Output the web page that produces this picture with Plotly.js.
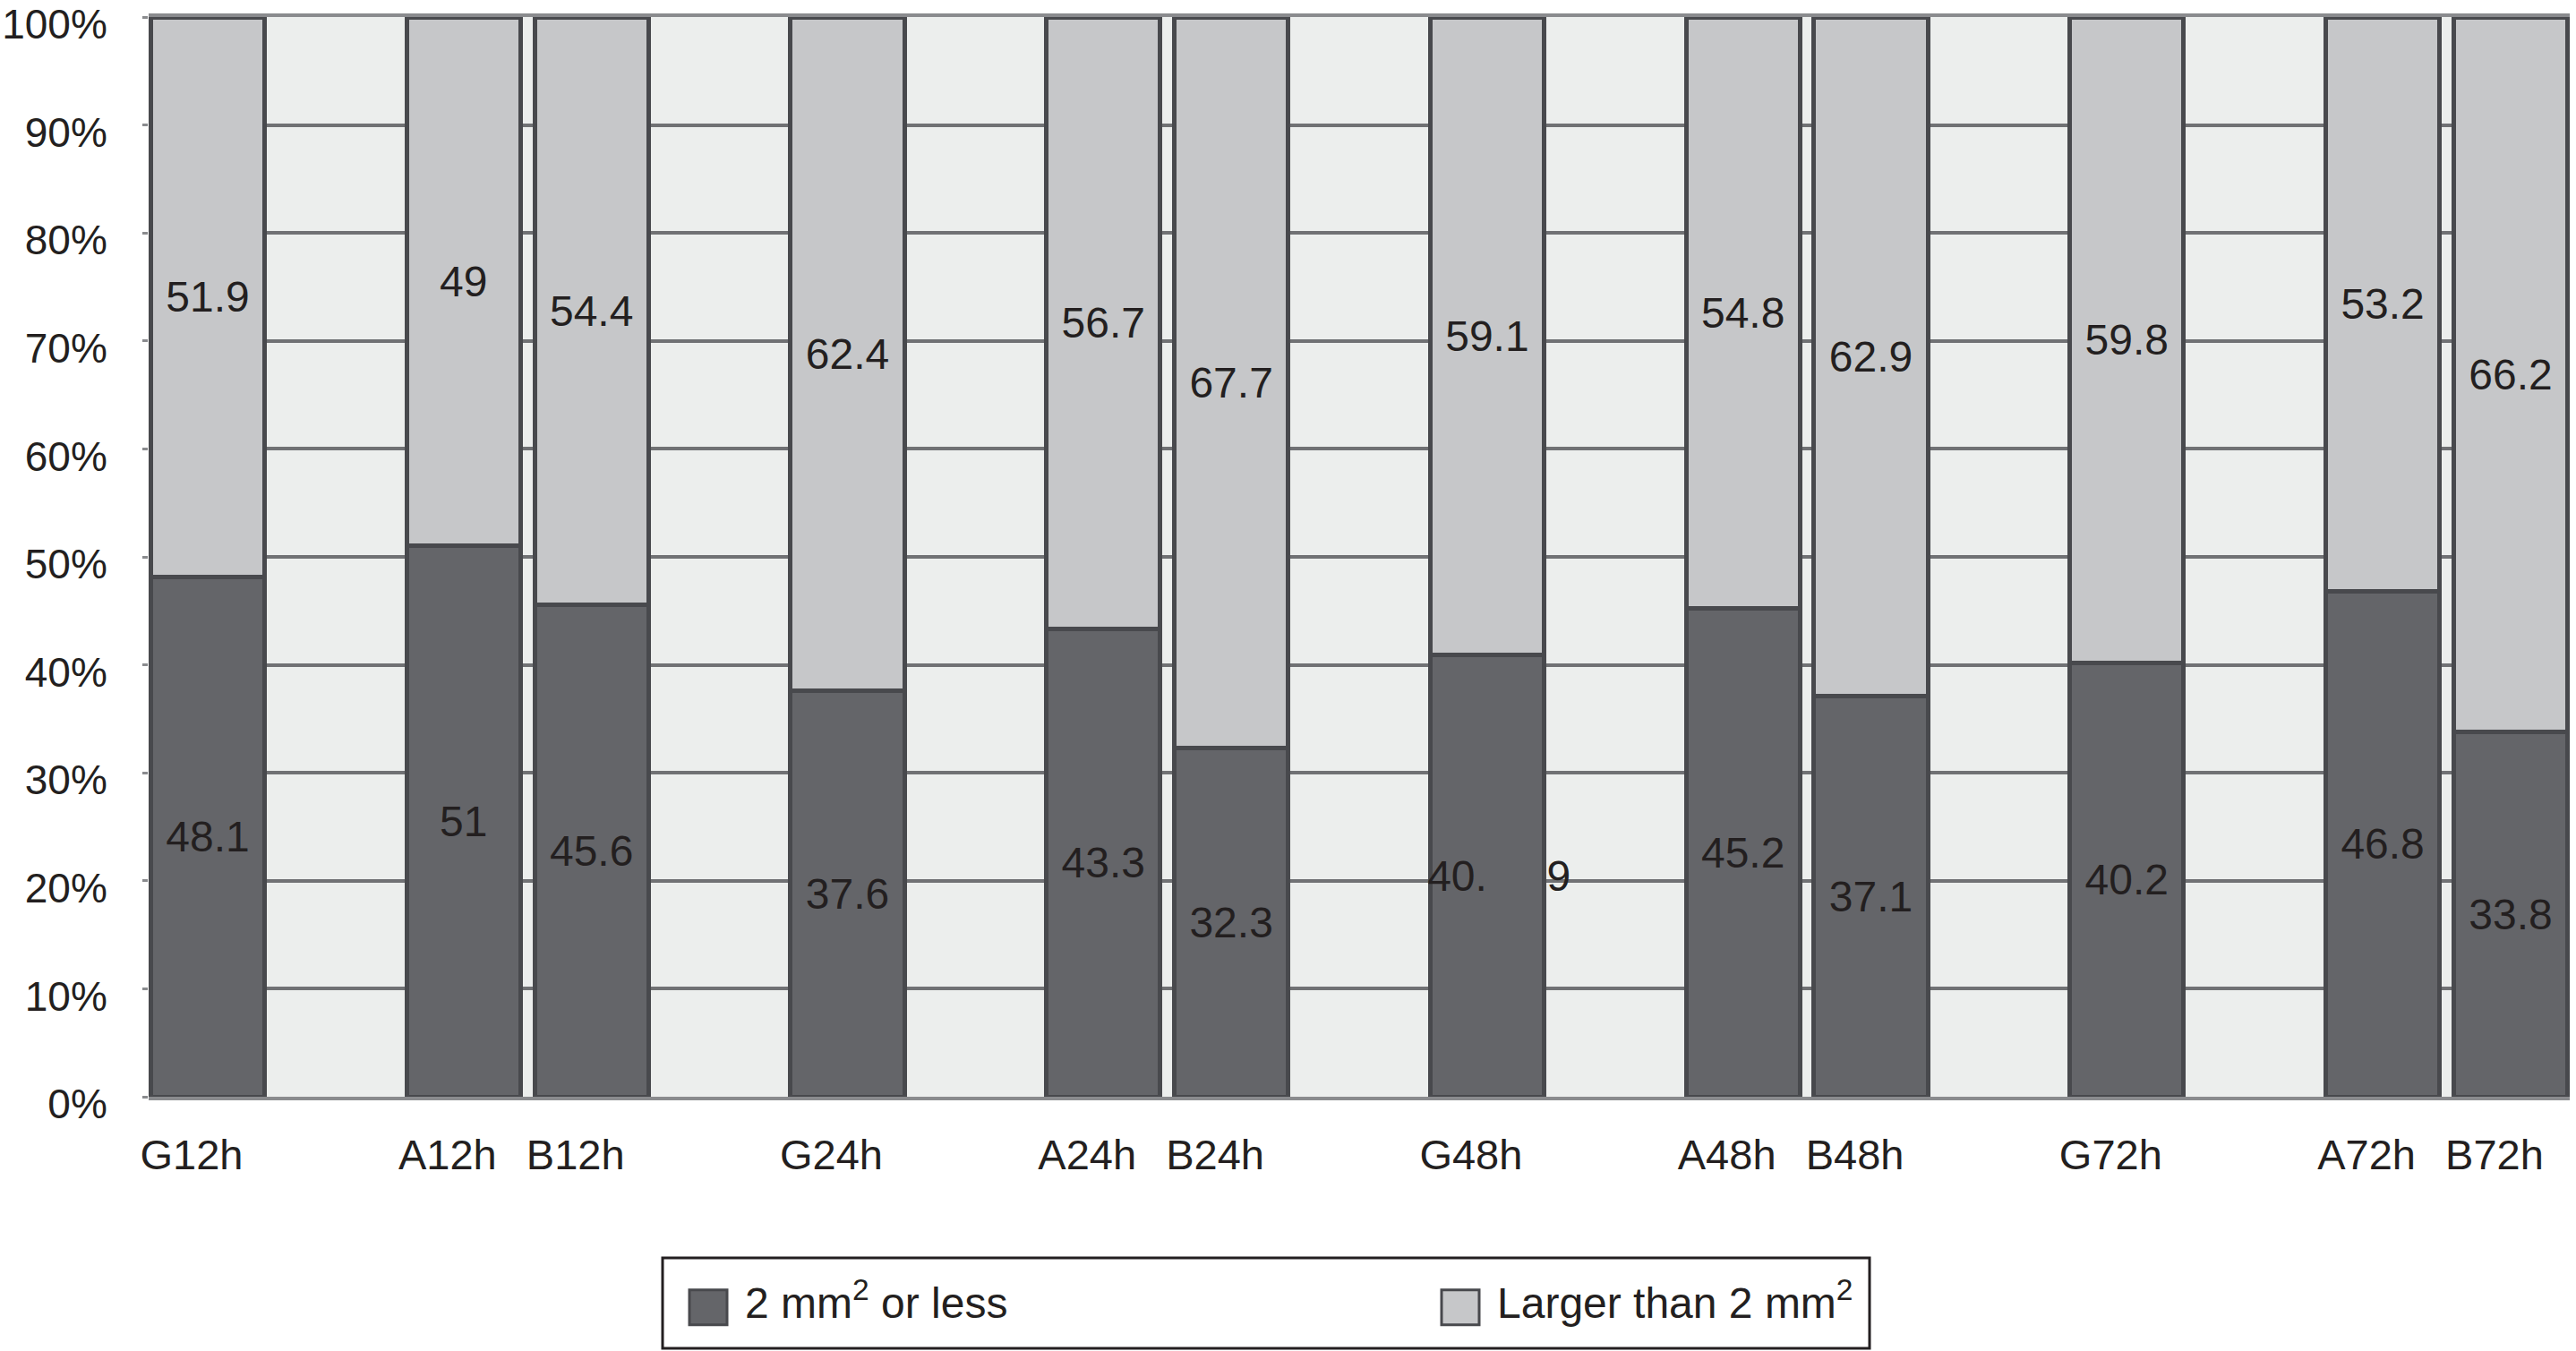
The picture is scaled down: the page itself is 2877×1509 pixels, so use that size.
<!DOCTYPE html>
<html>
<head>
<meta charset="utf-8">
<script src="https://cdn.plot.ly/plotly-3.0.1.min.js"></script>
<style>
  html, body { margin: 0; padding: 0; background: #ffffff; }
  #chart { width: 2877px; height: 1509px; }
</style>
</head>
<body>
<div id="chart"></div>
<script>
// ---- data ----
const categories = ['G12h', 'A12h', 'B12h', 'G24h', 'A24h', 'B24h', 'G48h', 'A48h', 'B48h', 'G72h', 'A72h', 'B72h'];
const smallShare = [48.1, 51, 45.6, 37.6, 43.3, 32.3, 40.9, 45.2, 37.1, 40.2, 46.8, 33.8];   // 2 mm² or less
const largeShare = [51.9, 49, 54.4, 62.4, 56.7, 67.7, 59.1, 54.8, 62.9, 59.8, 53.2, 66.2];   // larger than 2 mm²
const seriesNames = ['2 mm<sup>2</sup> or less', 'Larger than 2 mm<sup>2</sup>'];
const yTickVals = [0, 10, 20, 30, 40, 50, 60, 70, 80, 90, 100];
const yTickText = ['0%', '10%', '20%', '30%', '40%', '50%', '60%', '70%', '80%', '90%', '100%'];

// labels as printed in the source (the 40.9 label is split across the bar edge there)
const smallLabels = smallShare.map(v => String(v));
smallLabels[6] = '\u00a0\u00a040.\u00a0\u00a0\u00a0\u00a0\u00a09';
const largeLabels = largeShare.map(v => String(v));

// category order with empty slots between the groups (G | gap | A B | gap)
const categoryOrder = [];
let spacer = ' ';
categories.forEach((c, i) => {
  categoryOrder.push(c);
  const first = c.charAt(0);
  if ((first === 'G' || first === 'B') && i < categories.length - 1) {
    categoryOrder.push(spacer);
    spacer += ' ';
  }
});

const FONT = '"Liberation Sans", Arial, Helvetica, sans-serif';
const TXT = '#231f20';

const barLine = { color: '#48494d', width: 5 };
const textFont = { family: FONT, size: 48, color: TXT };

function barTrace(name, values, labels, fill) {
  return {
    type: 'bar',
    name: name,
    x: categories,
    y: values,
    text: labels,
    textposition: 'inside',
    insidetextanchor: 'middle',
    textangle: 0,
    constraintext: 'none',
    textfont: textFont,
    marker: { color: fill, line: barLine },
    hoverinfo: 'x+y'
  };
}

const traces = [
  barTrace(seriesNames[0], smallShare, smallLabels, '#646569'),
  barTrace(seriesNames[1], largeShare, largeLabels, '#c6c7c9')
];

// plot area geometry (px) used to place the legend frame in paper units
const M = { l: 166, r: 7, t: 19, b: 284 };
const W = 2877, H = 1509;
const plotW = W - M.l - M.r, plotH = H - M.t - M.b;
const px2x = px => (px - M.l) / plotW;
const py2y = py => (H - M.b - py) / plotH;

const layout = {
  width: W,
  height: H,
  paper_bgcolor: '#ffffff',
  plot_bgcolor: '#eceeed',
  barmode: 'stack',
  bargap: 0.11,
  margin: { l: M.l, r: M.r, t: M.t, b: M.b, pad: 0 },
  font: { family: FONT, size: 46, color: TXT },
  showlegend: true,
  legend: {
    orientation: 'h',
    xref: 'container', yref: 'container',
    x: 762 / W, xanchor: 'left',
    y: 1 - 1454 / H, yanchor: 'middle',
    bgcolor: 'rgba(0,0,0,0)',
    borderwidth: 0,
    font: { family: FONT, size: 48, color: TXT },
    entrywidth: 765,
    entrywidthmode: 'pixels',
    itemwidth: 60,
    traceorder: 'normal'
  },
  shapes: [{
    type: 'rect',
    xref: 'paper', yref: 'paper',
    x0: px2x(740), x1: px2x(2088),
    y0: py2y(1506), y1: py2y(1405),
    line: { color: TXT, width: 3 },
    fillcolor: 'rgba(0,0,0,0)',
    layer: 'above'
  }],
  xaxis: {
    type: 'category',
    categoryorder: 'array',
    categoryarray: categoryOrder,
    range: [-0.462, categoryOrder.length - 1 + 0.462],
    tickmode: 'array',
    tickvals: categories,
    ticktext: categories,
    showgrid: false,
    zeroline: false,
    showline: true,
    linecolor: '#8a8b8e',
    linewidth: 4,
    mirror: true,
    ticks: '',
    ticklabelstandoff: 21,
    ticklabelshift: -18,
    tickfont: { family: FONT, size: 47, color: TXT },
    layer: 'below traces',
    fixedrange: true
  },
  yaxis: {
    range: [0, 100],
    tickmode: 'array',
    tickvals: yTickVals,
    ticktext: yTickText,
    ticklabeloverflow: 'allow',
    ticklabelshift: 8,
    showgrid: true,
    gridcolor: '#707174',
    gridwidth: 4,
    zeroline: false,
    showline: false,
    ticks: 'outside',
    ticklen: 6,
    tickwidth: 3,
    tickcolor: '#8a8b8e',
    ticklabelstandoff: 30,
    tickfont: { family: FONT, size: 46, color: TXT },
    layer: 'below traces',
    fixedrange: true
  }
};

function bigSwatches() {
  document.querySelectorAll('#chart g.legend .legendpoints path').forEach(p => {
    p.setAttribute('d', 'M15,26H-27V-13H15Z');
    p.style.strokeWidth = '3px';
  });
}

Plotly.newPlot('chart', traces, layout, { displayModeBar: false, staticPlot: true }).then(() => {
  bigSwatches();
  setTimeout(bigSwatches, 50);
});
</script>
</body>
</html>
